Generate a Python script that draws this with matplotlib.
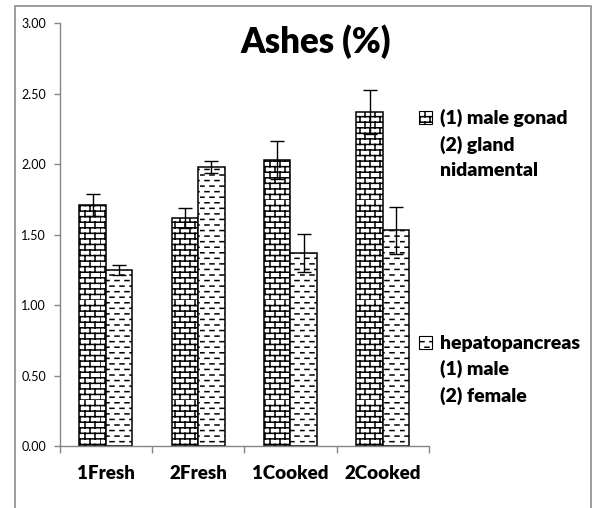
import numpy as np
import matplotlib
matplotlib.use('Agg')
from matplotlib import pyplot as plt
from matplotlib import hatch as mhatch
from matplotlib.patches import Patch, Rectangle
from matplotlib.path import Path

# Data
categories = ['1Fresh', '2Fresh', '1Cooked', '2Cooked']
gonad = [1.71, 1.62, 2.03, 2.37]
gonad_err = [0.08, 0.07, 0.135, 0.155]
hepato = [1.25, 1.98, 1.37, 1.53]
hepato_err = [0.035, 0.045, 0.135, 0.165]
yticks = [0.0, 0.5, 1.0, 1.5, 2.0, 2.5, 3.0]
legend_gonad = ['(1) male gonad', '(2) gland', 'nidamental']
legend_hepato = ['hepatopancreas', '(1) male', '(2) female']


###----------------------------------###
### Excel-like hatches (brick, dash) ###
###----------------------------------###

class BrickHatch(mhatch.HatchPatternBase):
    # '+' -> brick wall
    def __init__(self, hatch, density):
        self.rows = 18
        self.cols = 10
        n = hatch.count('+')
        self.num_lines = (self.rows + self.rows * self.cols) if n else 0
        self.num_vertices = self.num_lines * 2

    def set_vertices_and_codes(self, vertices, codes):
        k = 0
        for r in range(self.rows):
            y0 = r / self.rows
            y1 = (r + 1) / self.rows
            vertices[k] = (0, y0)
            vertices[k + 1] = (1, y0)
            k += 2
            off = 0.5 * (r % 2) / self.cols
            for c in range(self.cols):
                x = c / self.cols + off
                vertices[k] = (x, y0)
                vertices[k + 1] = (x, y1)
                k += 2
        codes[0::2] = Path.MOVETO
        codes[1::2] = Path.LINETO


class DashHatch(mhatch.HatchPatternBase):
    # '-' -> staggered short dashes
    def __init__(self, hatch, density):
        self.rows = 18
        self.cols = 10
        self.dash = 0.4
        n = hatch.count('-')
        self.num_lines = self.rows * self.cols if n else 0
        self.num_vertices = self.num_lines * 2

    def set_vertices_and_codes(self, vertices, codes):
        k = 0
        for r in range(self.rows):
            y = (r + 0.5) / self.rows
            off = 0.5 * (r % 2)
            for c in range(self.cols):
                x0 = (c + off) / self.cols
                vertices[k] = (x0, y)
                vertices[k + 1] = (x0 + self.dash / self.cols, y)
                k += 2
        codes[0::2] = Path.MOVETO
        codes[1::2] = Path.LINETO


mhatch._hatch_types = [BrickHatch, DashHatch]
plt.rcParams['hatch.linewidth'] = 1.1
plt.rcParams['font.family'] = ['Lato', 'DejaVu Sans']

grey = '#868686'

fig = plt.figure(figsize=(5.92, 5.08), dpi=100)
ax = fig.add_axes([0.101, 0.122, 0.6235, 0.8325])

x = np.arange(len(categories))
w = 0.287
b1 = ax.bar(x - w / 2, gonad, w, color='white', edgecolor='black',
            linewidth=1.1, hatch='+')
b2 = ax.bar(x + w / 2, hepato, w, color='white', edgecolor='black',
            linewidth=1.1, hatch='-')
ax.errorbar(x - w / 2, gonad, yerr=gonad_err, fmt='none', ecolor='black',
            elinewidth=1.0, capsize=5, capthick=1.0)
ax.errorbar(x + w / 2, hepato, yerr=hepato_err, fmt='none', ecolor='black',
            elinewidth=1.0, capsize=5, capthick=1.0)

ax.set_xlim(-0.5, len(categories) - 0.5)
ax.set_ylim(0, 3.0)
ax.set_yticks(yticks)
ax.set_yticklabels(['%.2f' % v for v in yticks], fontsize=9)
ax.set_xticks(x)
ax.set_xticklabels(categories, fontsize=13.5, fontweight='heavy')
ax.set_xticks(np.arange(len(categories) + 1) - 0.5, minor=True)
ax.tick_params(axis='x', which='major', length=0, pad=14)
ax.tick_params(axis='x', which='minor', length=5, color=grey, width=1)
ax.tick_params(axis='y', length=4, color=grey, width=1, pad=6)

for s in ['top', 'right']:
    ax.spines[s].set_visible(False)
for s in ['left', 'bottom']:
    ax.spines[s].set_color(grey)
    ax.spines[s].set_linewidth(1.0)

fig.text(316 / 592, 1 - 42 / 508, 'Ashes (%)', ha='center', va='center',
         fontsize=25, fontweight='heavy')

# Two legend blocks: marker on the first line only
blank = Patch(facecolor='none', edgecolor='none')
h1 = [Patch(facecolor='white', edgecolor='black', hatch='+', linewidth=0.8),
      blank, blank]
h2 = [Patch(facecolor='white', edgecolor='black', hatch='-', linewidth=0.8),
      blank, blank]
leg_kw = dict(frameon=False, handlelength=0.65, handleheight=0.65,
              handletextpad=0.45, labelspacing=0.42, borderpad=0,
              borderaxespad=0, loc='upper left',
              prop={'weight': 'heavy', 'size': 14},
              bbox_transform=fig.transFigure)
leg1 = ax.legend(h1, legend_gonad, bbox_to_anchor=(419 / 592, 1 - 109 / 508),
                 **leg_kw)
ax.add_artist(leg1)
ax.legend(h2, legend_hepato, bbox_to_anchor=(419 / 592, 1 - 335 / 508),
          **leg_kw)

# outer chart border (left, top, right visible)
fig.patches.append(Rectangle((14.5 / 592, -0.05), (590.5 - 14.5) / 592,
                             1.05 - 5.5 / 508, transform=fig.transFigure,
                             fill=False, edgecolor='#8c8c8c', linewidth=1.2))

fig.savefig('out.png', dpi=100)
